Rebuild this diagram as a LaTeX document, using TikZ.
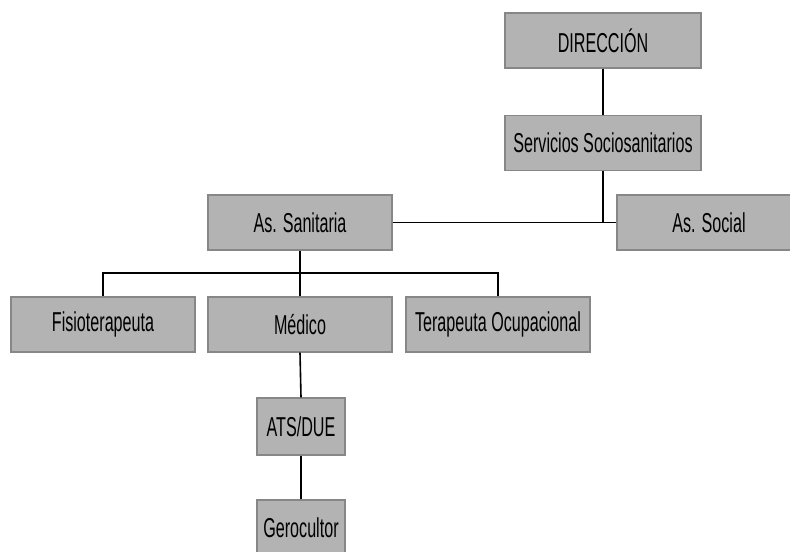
\documentclass[tikz,border=0pt]{standalone}
\usepackage{fontspec}
\setmainfont[FakeStretch=0.59]{Liberation Sans}
\definecolor{boxfill}{RGB}{179,179,179}
\definecolor{boxline}{RGB}{135,135,135}
\begin{document}
\begin{tikzpicture}[x=0.75pt,y=-0.75pt,
  orgbox/.style={draw=boxline,fill=boxfill,line width=1pt,inner sep=0pt,
    font=\fontsize{20.5}{22}\selectfont,text=black},
  wide/.style={orgbox,minimum width=184*0.75pt,minimum height=55*0.75pt},
  top/.style={orgbox,minimum width=196*0.75pt,minimum height=55*0.75pt},
  narrow/.style={orgbox,minimum width=88*0.75pt,minimum height=56*0.75pt},
  conn/.style={draw=black,line width=1.2pt}]
\useasboundingbox (0,0) rectangle (790,552);
\clip (0,0) rectangle (790,552);
\node[top] (dir) at (603,40.5) {DIRECCIÓN};
\node[top] (serv) at (603,143) {Servicios Sociosanitarios};
\node[wide] (san) at (300,222.5) {As. Sanitaria};
\node[wide] (soc) at (709,222.5) {As. Social};
\node[wide] (fis) at (103,324.5) {Fisioterapeuta};
\node[wide] (med) at (300,324.5) {Médico};
\node[wide] (ter) at (498,324.5) {Terapeuta Ocupacional};
\node[narrow,minimum height=57*0.75pt] (ats) at (301,426.5) {ATS/DUE};
\node[narrow] (ger) at (301,528) {Gerocultor};
\coordinate (bus) at (300,273);
\draw[conn] (dir.south) -- (serv.north);
\draw[conn] (san.east) -- (soc.west);
\draw[conn] (serv.south) -- (serv.south |- soc.west);
\draw[conn] (san.south) -- (med.north);
\draw[conn] (fis.north) |- (bus) -| (ter.north);
\draw[conn] (med.south) -- (ats.north);
\draw[conn] (ats.south) -- (ger.north);
\end{tikzpicture}
\end{document}
